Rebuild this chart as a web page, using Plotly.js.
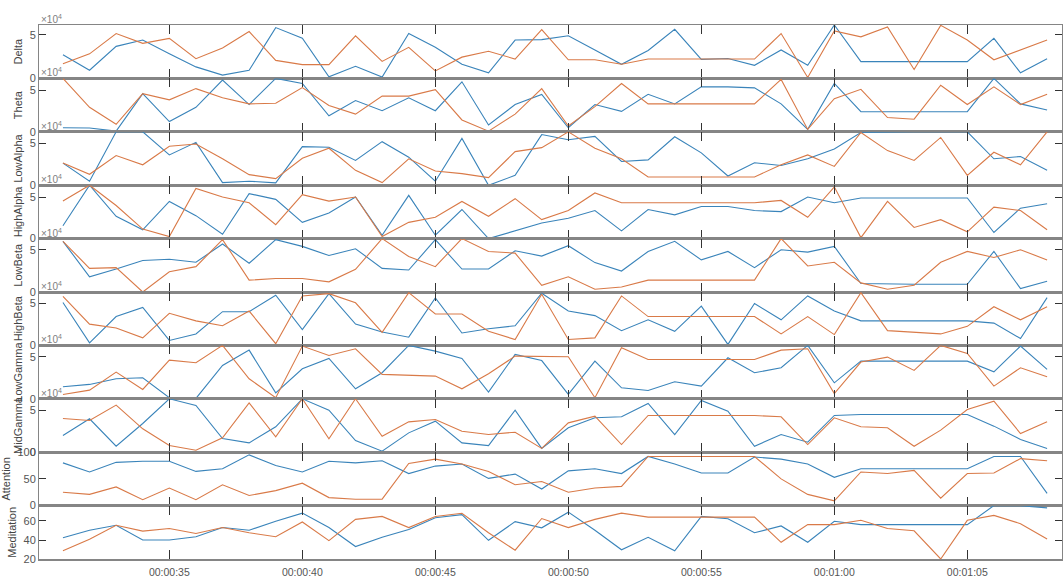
<!DOCTYPE html>
<html>
<head>
<meta charset="utf-8">
<script src="https://cdn.plot.ly/plotly-3.0.1.min.js"></script>
<style>html,body{margin:0;padding:0;background:#fff;}#chart{width:1063px;height:577px;}</style>
</head>
<body>
<div id="chart"></div>
<script>
// Time stamps (one sample per second)
const times = ["00:00:31","00:00:32","00:00:33","00:00:34","00:00:35","00:00:36","00:00:37","00:00:38","00:00:39","00:00:40",
"00:00:41","00:00:42","00:00:43","00:00:44","00:00:45","00:00:46","00:00:47","00:00:48","00:00:49","00:00:50",
"00:00:51","00:00:52","00:00:53","00:00:54","00:00:55","00:00:56","00:00:57","00:00:58","00:00:59","00:01:00",
"00:01:01","00:01:02","00:01:03","00:01:04","00:01:05","00:01:06","00:01:07","00:01:08"];

const panelNames = ["Delta","Theta","LowAlpha","HighAlpha","LowBeta","HighBeta","LowGamma","MidGamma","Attention","Meditation"];

// EEG band values in units of 1e4 (series 1 = blue, series 2 = orange)
const deltaA = [2.71,0.94,3.68,4.40,2.82,1.32,0.38,0.94,5.83,4.62,0.19,1.39,0.15,5.15,3.57,1.62,0.64,4.40,4.45,4.89,3.27,1.62,3.20,5.64,2.18,2.29,1.50,3.27,1.50,6.13,1.92,1.92,1.92,1.92,1.92,4.59,0.64,2.26];
const deltaB = [1.69,2.82,5.15,4.02,4.59,2.26,3.50,5.38,2.07,1.58,1.58,4.89,1.95,3.57,0.86,2.44,3.12,2.22,5.60,2.14,2.14,1.62,2.22,2.22,2.22,2.22,2.22,5.15,0.11,5.45,4.77,5.90,1.02,6.09,4.40,2.14,3.27,4.40];

const thetaA = [0.49,0.45,0.08,4.59,1.23,2.95,6.23,3.28,6.43,5.82,1.93,3.77,2.54,4.10,2.54,6.02,0.82,3.28,4.50,0.49,3.28,2.46,4.51,3.36,5.41,5.41,5.29,3.36,0.29,5.82,2.42,2.42,2.42,2.42,2.42,6.43,3.36,2.62];
const thetaB = [6.43,2.95,0.90,4.59,3.85,5.20,4.10,3.36,3.44,5.33,3.16,2.13,4.30,4.30,5.08,1.43,0.08,2.13,5.20,0.70,3.03,5.82,3.36,3.36,3.36,3.36,3.36,6.31,0.29,3.98,5.12,1.72,1.52,5.61,3.28,5.41,3.28,4.51];

const lowAlphaA = [2.62,0.47,6.33,6.33,3.59,5.08,0.31,0.47,0.27,4.57,4.49,2.93,5.16,3.32,0.47,5.55,0.00,1.17,6.00,5.39,5.78,2.81,3.00,5.74,3.83,1.09,2.66,2.34,3.13,4.30,6.25,6.33,6.33,6.33,6.33,3.13,3.40,1.76];
const lowAlphaB = [2.62,1.29,3.52,2.42,4.61,4.88,3.13,1.25,0.78,3.20,4.38,1.76,0.31,3.13,1.68,1.37,0.90,3.98,4.45,6.33,4.38,3.13,0.98,0.98,0.98,0.98,0.98,2.42,3.59,2.23,6.25,4.10,2.93,5.66,1.17,3.91,2.42,6.33];

const highAlphaA = [1.54,6.42,2.68,1.06,4.47,2.76,0.53,5.41,4.72,1.95,3.09,5.00,0.41,5.20,0.41,3.50,0.00,0.93,1.87,2.44,3.37,0.93,3.50,2.85,3.86,3.86,3.37,3.25,5.00,4.31,4.88,4.88,4.88,4.88,4.88,0.73,3.66,4.19];
const highAlphaB = [4.51,6.42,3.98,1.14,0.24,6.02,5.00,4.31,1.67,5.28,4.51,5.00,0.24,1.95,2.56,4.47,2.68,4.80,2.28,3.37,5.49,4.31,4.31,4.31,4.31,4.31,4.31,4.59,2.56,6.22,0.12,4.47,1.34,2.28,0.81,3.78,3.37,1.06];

const lowBetaA = [6.00,1.80,2.72,3.72,3.88,3.52,5.68,3.40,6.20,5.40,4.32,5.12,2.80,2.60,6.20,2.72,2.72,4.88,4.25,5.48,3.48,2.48,4.80,6.00,3.80,4.80,2.88,5.00,4.72,5.40,1.00,0.92,0.92,0.92,0.92,4.80,0.40,1.28];
const lowBetaB = [6.00,2.80,2.88,0.00,2.40,3.00,6.20,1.40,1.60,1.60,1.20,2.68,6.32,4.20,3.00,6.32,4.80,4.60,0.80,1.80,0.32,0.60,1.40,1.40,1.40,1.40,1.40,6.32,3.08,3.52,1.08,0.32,0.80,3.52,4.80,4.08,5.00,3.80];

const highBetaA = [5.12,0.31,3.44,4.53,0.59,1.37,4.02,4.02,5.98,1.88,6.17,2.54,1.60,0.98,5.66,1.48,1.99,2.34,6.23,4.10,3.55,1.76,3.05,1.68,4.69,0.12,5.00,3.05,5.90,4.10,2.93,2.93,2.93,2.93,2.93,2.66,0.82,5.70];
const highBetaB = [5.86,2.54,2.07,0.90,3.83,2.93,2.34,4.10,0.20,5.90,6.17,5.08,1.56,6.29,3.75,3.75,1.68,0.70,6.10,0.70,0.90,5.90,3.44,3.44,3.44,3.44,3.44,1.37,3.44,1.29,6.29,1.76,1.60,1.37,2.27,4.61,3.05,4.61];

const lowGammaA = [1.43,1.71,2.38,2.50,0.12,0.04,3.97,5.79,0.71,3.57,4.80,1.19,3.10,6.35,5.67,4.80,0.79,5.28,4.55,0.52,4.48,1.31,0.99,2.02,1.51,4.88,3.10,3.69,6.35,1.90,4.48,4.48,4.48,4.48,4.48,3.21,6.27,3.49];
const lowGammaB = [0.52,1.03,3.17,1.11,4.60,4.29,6.35,2.38,0.12,6.27,5.16,5.95,2.90,2.82,2.70,1.19,2.98,5.08,5.00,5.00,0.12,6.07,4.68,4.68,4.68,4.68,4.68,5.79,5.95,0.63,4.37,4.96,3.37,6.35,5.40,1.51,3.69,2.62];

const midGammaA = [1.98,3.97,0.71,3.41,6.35,5.56,1.63,1.11,3.02,6.35,5.00,1.39,0.12,2.30,3.69,1.11,0.79,5.00,0.45,2.90,4.09,4.21,5.79,2.10,6.15,4.88,0.71,2.10,1.19,4.37,4.48,4.48,4.48,4.48,4.48,3.10,1.51,0.44];
const midGammaB = [4.01,3.77,5.60,2.78,0.79,0.24,1.71,5.87,1.83,6.35,1.59,6.35,1.90,3.61,3.89,2.50,2.10,2.38,0.45,3.49,4.29,0.91,4.37,4.37,4.37,4.37,4.37,4.21,0.91,4.09,3.02,2.90,0.71,2.62,5.08,6.07,2.22,3.61];

const attentionA = [80,63,81,83,83,64,69,95,75,63,83,80,84,60,74,78,51,59,31,65,69,60,92,78,61,61,91,87,78,53,69,69,69,69,69,92,92,23];
const attentionB = [25,21,35,11,33,11,39,19,28,42,15,12,12,79,87,78,64,39,45,25,33,36,92,92,92,92,92,50,21,9,63,60,66,14,60,61,88,84];

const meditationA = [42.4,50.3,55.5,40.0,40.0,43.4,53.1,50.3,59.7,68.3,53.1,33.1,42.8,51.0,63.4,66.7,39.7,59.3,52.8,69.3,50.3,29.7,42.8,28.6,64.8,62.4,47.6,54.8,37.6,59.7,56.2,56.2,56.2,56.2,56.2,76.2,76.0,73.8];
const meditationB = [28.6,40.7,55.5,49.3,52.1,46.9,53.1,47.6,43.4,59.0,39.3,61.7,64.8,53.1,64.8,68.1,47.6,29.3,62.6,53.1,61.7,68.3,64.1,64.1,64.1,64.1,64.1,37.6,56.2,56.2,60.7,52.1,49.7,20.0,60.7,65.9,57.2,41.0];

// y tick values per panel
const bandTicks = [0, 5];
const attentionTicks = [0, 50, 100];
const meditationTicks = [20, 40, 60];

const seriesA = [deltaA,thetaA,lowAlphaA,highAlphaA,lowBetaA,highBetaA,lowGammaA,midGammaA,attentionA,meditationA];
const seriesB = [deltaB,thetaB,lowAlphaB,highAlphaB,lowBetaB,highBetaB,lowGammaB,midGammaB,attentionB,meditationB];
const yRanges = [[0,6.13],[0,6.43],[0,6.33],[0,6.42],[0,6.32],[0,6.37],[0,6.35],[0,6.35],[0,100],[20,76.2]];

const day = "2020-01-01 ";
const xs = times.map(t => day + t);
const blue = "#3a84ba";
const orange = "#d97a48";

const n = panelNames.length;
const traces = [];
const layout = {
  width: 1063, height: 577,
  margin: {l: 39, r: 1, t: 25, b: 18, pad: 0},
  showlegend: false,
  paper_bgcolor: "#ffffff",
  plot_bgcolor: "#ffffff",
  font: {family: "Liberation Sans, Arial, sans-serif", size: 11, color: "#555555"},
  annotations: []
};

for (let i = 0; i < n; i++) {
  const k = i === 0 ? "" : String(i + 1);
  const xa = "x" + k, ya = "y" + k;
  traces.push({x: xs, y: seriesA[i], type: "scatter", mode: "lines", xaxis: xa, yaxis: ya,
               line: {color: blue, width: 1.1}, hoverinfo: "skip"});
  traces.push({x: xs, y: seriesB[i], type: "scatter", mode: "lines", xaxis: xa, yaxis: ya,
               line: {color: orange, width: 1.1}, hoverinfo: "skip"});
  const top = 1 - i / n, bot = 1 - (i + 1) / n;
  let tv = bandTicks;
  if (i === 8) tv = attentionTicks;
  if (i === 9) tv = meditationTicks;
  layout["xaxis" + k] = {
    domain: [0, 1], anchor: ya, type: "date",
    range: [day + "00:00:30.1", day + "00:01:08.56"],
    tick0: day + "00:00:00", dtick: 5000, tickformat: "%H:%M:%S",
    ticks: "inside", ticklen: 9, tickwidth: 1, tickcolor: "#333333",
    showline: true, linecolor: "#858585", linewidth: 1.5, mirror: "ticks",
    showgrid: false, zeroline: false,
    showticklabels: i === n - 1,
    ticklabelstandoff: 3,
    tickfont: {size: 10.5, color: "#555555"},
    fixedrange: true
  };
  layout["yaxis" + k] = {
    domain: [bot, top], anchor: xa,
    range: yRanges[i],
    tickvals: tv, ticktext: tv.map(String),
    ticks: "inside", ticklen: 7, tickwidth: 1, tickcolor: "#333333",
    showline: true, linecolor: "#858585", linewidth: 1, mirror: "ticks",
    showgrid: false, zeroline: false,
    tickfont: {size: 11, color: "#555555"},
    title: {text: panelNames[i], font: {size: 11, color: "#444444"}, standoff: 4},
    fixedrange: true
  };
  if (i < 8) {
    layout.annotations.push({
      xref: "paper", yref: "paper", x: 0, y: top, xanchor: "left", yanchor: "bottom",
      text: "×10<sup>4</sup>", showarrow: false,
      font: {size: 10, color: "#808080"}, xshift: 0, yshift: -2
    });
  }
}

Plotly.newPlot("chart", traces, layout, {displayModeBar: false, staticPlot: true});
</script>
</body>
</html>
